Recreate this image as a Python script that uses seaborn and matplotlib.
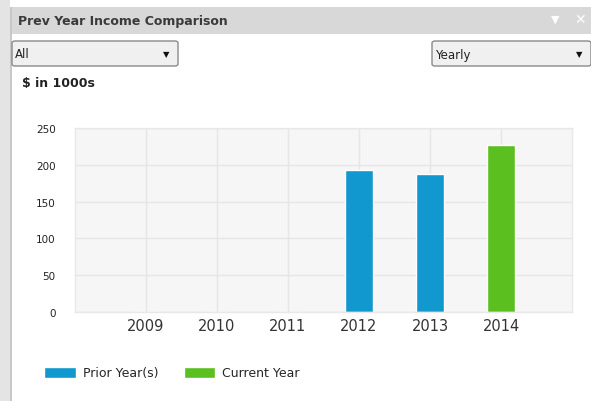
import numpy as np
import pandas as pd
import matplotlib
matplotlib.use("Agg")
import matplotlib.pyplot as plt
from matplotlib.patches import Rectangle, FancyBboxPatch
import seaborn as sns

# data ($ in 1000s)
years = ["2009", "2010", "2011", "2012", "2013", "2014"]
income = [0, 0, 0, 193, 187, 227]
series = ["Prior Year(s)"] * 5 + ["Current Year"]
yticks = [0, 50, 100, 150, 200, 250]

colors = {"Prior Year(s)": "#1199cf", "Current Year": "#5cbf20"}

df = pd.DataFrame({"year": years, "income": income, "series": series})

sns.set_style("white")
plt.rcParams["font.family"] = ["DejaVu Sans"]

W, H = 591, 402
fig = plt.figure(figsize=(W / 100, H / 100), dpi=100)
fig.patch.set_facecolor("white")


def px(x, y, w, h):
    # pixel box (top-left origin) -> figure fraction rect
    return (x / W, 1 - (y + h) / H, w / W, h / H)


# window chrome
fig.patches.append(Rectangle((0, 0), 10 / W, 1, transform=fig.transFigure,
                             facecolor="#e4e4e4", edgecolor="none"))
fig.patches.append(Rectangle(px(10, 8, W - 10, 27)[:2], (W - 10) / W, 27 / H,
                             transform=fig.transFigure, facecolor="#d8d8d8", edgecolor="none"))
fig.patches.append(Rectangle((10 / W, 0), 2 / W, 1 - 8 / H, transform=fig.transFigure,
                             facecolor="#c8c8c8", edgecolor="none"))
fig.text(18 / W, 1 - 21 / H, "Prev Year Income Comparison", fontsize=9, fontweight="bold",
         color="#3a3a3a", va="center", ha="left")
fig.text(555 / W, 1 - 20 / H, "▼", fontsize=8, color="white", va="center", ha="center")
fig.text(580 / W, 1 - 20 / H, "✕", fontsize=10, color="white", va="center", ha="center")

# dropdowns
for (bx, bw, label) in [(12, 166, "All"), (432, 159, "Yearly")]:
    x0, y0, w0, h0 = px(bx, 42, bw, 25)
    fig.patches.append(FancyBboxPatch((x0, y0), w0, h0, boxstyle="round,pad=0,rounding_size=0.005",
                                      transform=fig.transFigure, facecolor="#f0f0f0",
                                      edgecolor="#8a8a8a", linewidth=1))
    fig.text((bx + 3) / W, 1 - 55 / H, label, fontsize=8.5, color="#222222", va="center")
    fig.text((bx + bw - 12) / W, 1 - 55 / H, "▼", fontsize=6, color="#111111",
             va="center", ha="center")

fig.text(22 / W, 1 - 84 / H, "$ in 1000s", fontsize=9, fontweight="bold", color="#222222",
         va="center")

# chart
ax = fig.add_axes([75 / W, (H - 313) / H, (572 - 75) / W, (313 - 129) / H])
sns.barplot(data=df, x="year", y="income", hue="series", palette=colors, dodge=False,
            width=0.4, saturation=1, ax=ax)
ax.set_facecolor("#f6f6f6")
ax.set_xlim(-1, 6)
ax.set_ylim(0, 250)
ax.set_yticks(yticks)
ax.set_xlabel("")
ax.set_ylabel("")
ax.grid(True, color="#e6e6e6", linewidth=1)
ax.set_axisbelow(True)
for s in ax.spines.values():
    s.set_color("#e8e8e8")
    s.set_linewidth(1)
ax.tick_params(axis="y", labelsize=7.5, colors="#222222", length=0, pad=14)
ax.tick_params(axis="x", labelsize=10.5, colors="#333333", length=0, pad=4)

sns.move_legend(ax, "center left", bbox_to_anchor=(33 / W, 1 - 374 / H),
                bbox_transform=fig.transFigure, ncol=2, frameon=False, title=None,
                fontsize=9, handlelength=2.5, handleheight=1.0, columnspacing=2.0,
                handletextpad=0.6)

fig.savefig("out.png", dpi=100)
